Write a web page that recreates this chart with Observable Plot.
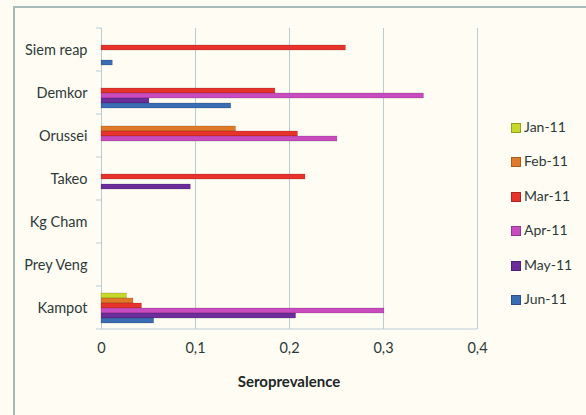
<!DOCTYPE html>
<html><head><meta charset="utf-8">
<script src="https://cdn.jsdelivr.net/npm/d3@7"></script>
<script src="https://cdn.jsdelivr.net/npm/@observablehq/plot@0.6"></script>
<style>
html,body{margin:0;padding:0;background:#fffdf3;}
#wrap{position:relative;width:586px;height:415px;overflow:hidden;background:#fffdf3;font-family:Lato,"Open Sans",sans-serif;}
#border{position:absolute;left:13px;top:6px;width:700px;height:500px;border-left:2px solid #a6b8b8;border-top:2px solid #a6b8b8;box-sizing:border-box;}
#chart{position:absolute;left:0;top:0;}
#legend{position:absolute;left:511px;top:118px;}
.item{height:34.4px;display:flex;align-items:flex-start;font-size:14px;color:#2d3939;line-height:17px;}
.sw{width:8px;height:8px;margin:5px 3px 0 0;border:1px solid rgba(0,0,0,0.25);}
</style></head>
<body><div id="wrap"><div id="border"></div><div id="chart"></div><div id="legend"></div></div>
<script>
const sites = ["Siem reap","Demkor","Orussei","Takeo","Kg Cham","Prey Veng","Kampot"];
const months = ["Jan-11","Feb-11","Mar-11","Apr-11","May-11","Jun-11"];
const colors = ["#c8d82a","#e07a28","#e8332c","#c94bc0","#6b2d9a","#3a6db4"];
const jan = [0,0,0,0,0,0,0.027];
const feb = [0,0,0.143,0,0,0,0.034];
const mar = [0.260,0.185,0.209,0.217,0,0,0.043];
const apr = [0,0.343,0.251,0,0,0,0.301];
const may = [0,0.051,0,0.095,0,0,0.207];
const jun = [0.012,0.138,0,0,0,0,0.056];
const xTicks = [0,0.1,0.2,0.3,0.4];

const series = [jan,feb,mar,apr,may,jun];
const data = [];
series.forEach((vals,mi)=>vals.forEach((v,si)=>{ if(v>0) data.push({site:sites[si],month:months[mi],value:v}); }));

const fmt = d => d===0 ? "0" : String(d).replace(".",",");

const plot = Plot.plot({
  width:586, height:415,
  marginLeft:101, marginRight:109, marginTop:27, marginBottom:85,
  style:{background:"transparent", fontFamily:"Lato, 'Open Sans', sans-serif", color:"#2d3939"},
  x:{domain:[0,0.4]},
  y:{domain:months, paddingInner:0, paddingOuter:0.7, axis:null},
  fy:{domain:sites, padding:0},
  color:{domain:months, range:colors},
  marks:[
    Plot.text(sites, {fy:d=>d, x:0, text:()=>""}),
    Plot.gridX(xTicks.slice(1), {stroke:"#b9cdd8", strokeOpacity:1, strokeWidth:1}),
    Plot.ruleX([0], {stroke:"#b9cdd8"}),
    Plot.barX(data, {x:"value", y:"month", fy:"site", fill:"month", stroke:"rgba(0,0,0,0.25)", strokeWidth:0.6}),
    Plot.axisFy({anchor:"left", tickSize:0, tickPadding:14, fontSize:14.5, label:null}),
    Plot.axisX(xTicks, {tickSize:0, tickPadding:13, fontSize:14.5, tickFormat:fmt, label:null, facetAnchor:"bottom"})
  ]
});
document.getElementById("chart").appendChild(plot);

// category tick marks and bottom axis line, from the library's scales
const fy = plot.scale("fy"), xs = plot.scale("x");
const svg = d3.select(plot);
const x0 = xs.apply(0), x1 = xs.apply(0.4);
const bw = fy.bandwidth;
const edges = sites.map(s => fy.apply(s)).concat([fy.apply(sites[sites.length-1]) + bw]);
svg.append("g").selectAll("line").data(edges).join("line")
  .attr("x1", x0-5).attr("x2", x0).attr("y1", d=>d).attr("y2", d=>d)
  .attr("stroke","#b9cdd8");
svg.append("line").attr("x1", x0).attr("x2", x1)
  .attr("y1", edges[edges.length-1]).attr("y2", edges[edges.length-1]).attr("stroke","#b9cdd8");
svg.append("text").attr("x",(x0+x1)/2).attr("y",edges[edges.length-1]+58)
  .attr("text-anchor","middle").attr("font-weight","bold").attr("font-size",15).attr("fill","#1e2626")
  .text("Seroprevalence");

const legend = d3.select("#legend");
months.forEach((m,i)=>{
  const it = legend.append("div").attr("class","item");
  it.append("div").attr("class","sw").style("background", colors[i]);
  it.append("span").text(m);
});
</script></body></html>
